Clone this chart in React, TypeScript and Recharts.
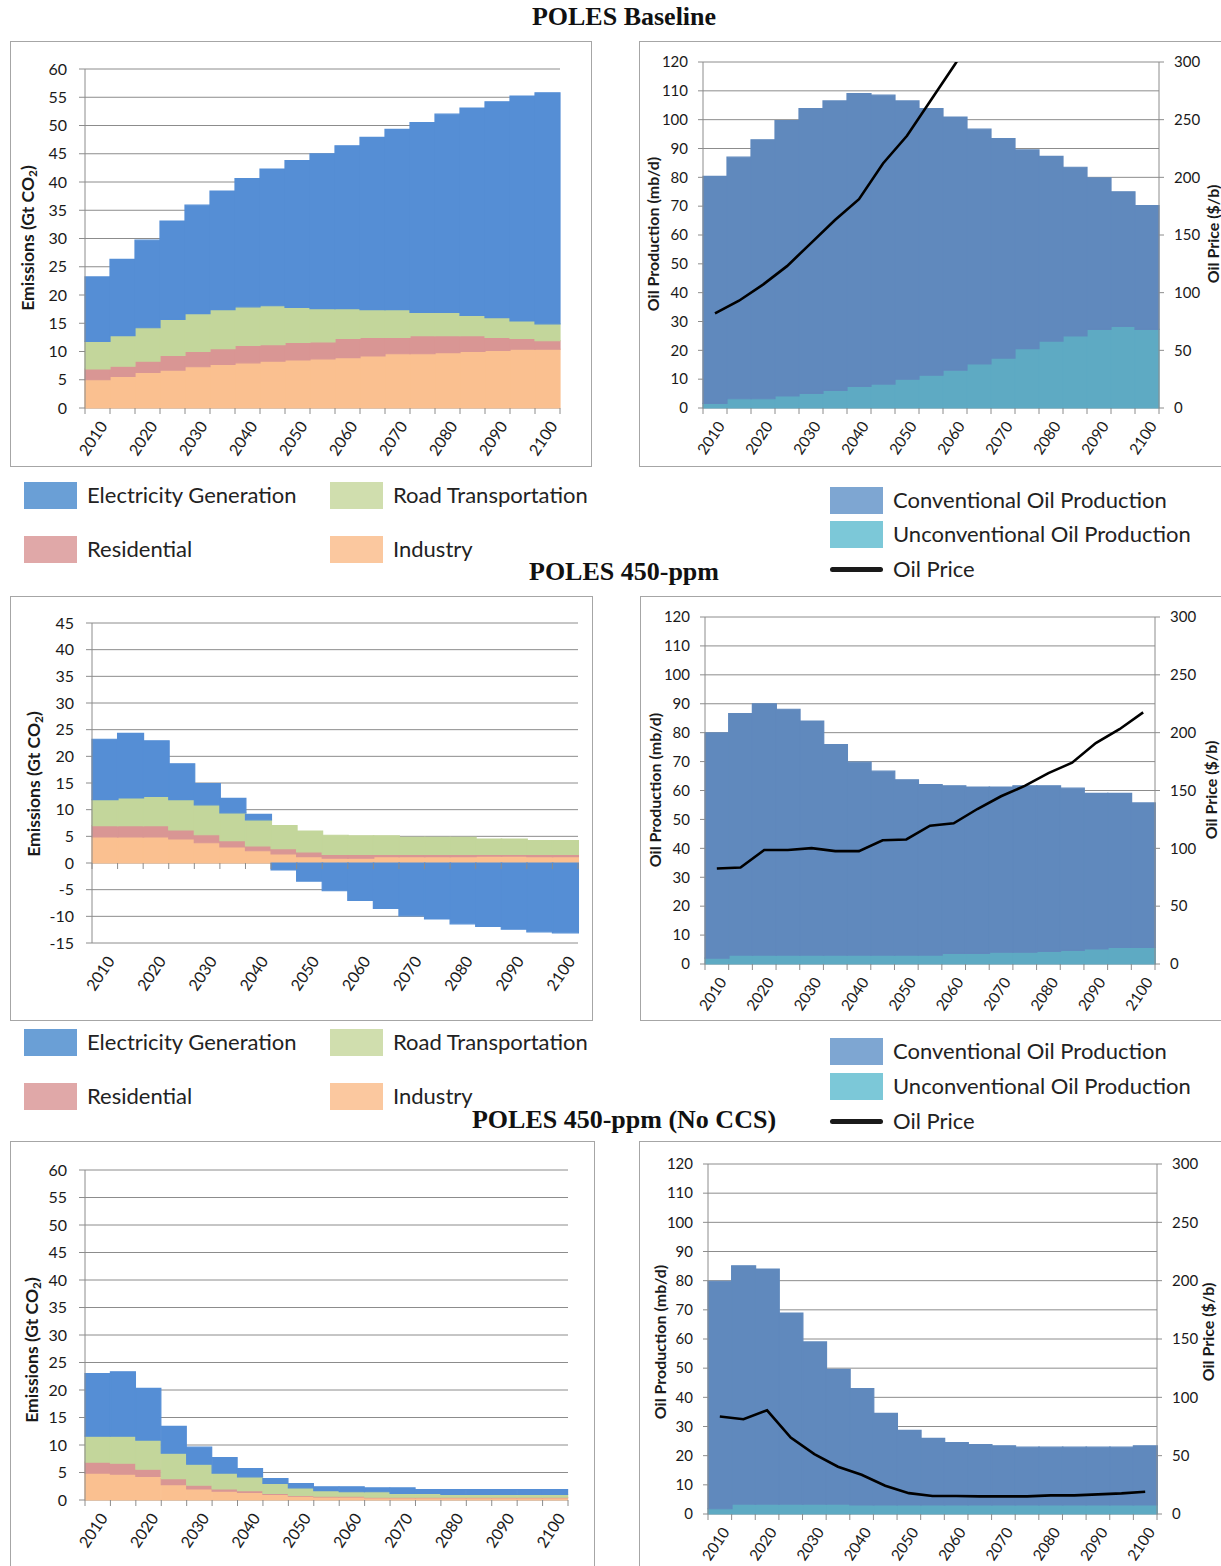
import { Bar, BarChart, CartesianGrid, ComposedChart, Line, XAxis, YAxis } from 'recharts';

const years = [2010, 2015, 2020, 2025, 2030, 2035, 2040, 2045, 2050, 2055, 2060, 2065, 2070, 2075, 2080, 2085, 2090, 2095, 2100];

// POLES Baseline
const baseIndustry = [5.0, 5.6, 6.3, 6.7, 7.3, 7.7, 8.0, 8.3, 8.5, 8.7, 8.9, 9.2, 9.6, 9.6, 9.8, 10.0, 10.2, 10.4, 10.4];
const baseResidential = [1.9, 1.8, 2.0, 2.6, 2.7, 2.8, 3.1, 2.9, 3.1, 3.0, 3.4, 3.3, 2.9, 3.2, 3.0, 2.8, 2.3, 1.9, 1.5];
const baseRoad = [4.9, 5.4, 5.9, 6.4, 6.7, 6.9, 6.8, 6.9, 6.2, 5.9, 5.3, 4.9, 4.9, 4.1, 4.1, 3.6, 3.5, 3.1, 3.0];
const baseElectricity = [11.4, 13.5, 15.5, 17.4, 19.2, 21.0, 22.7, 24.2, 26.0, 27.4, 28.8, 30.5, 31.9, 33.6, 35.1, 36.7, 38.2, 39.8, 40.9];
const baseUnconv = [1.6, 3.2, 3.2, 4.2, 5.1, 6.1, 7.5, 8.3, 10.0, 11.4, 13.1, 15.3, 17.3, 20.6, 23.2, 25.0, 27.3, 28.3, 27.3];
const baseConv = [78.7, 83.8, 89.8, 95.5, 98.7, 100.4, 101.5, 100.2, 96.5, 92.4, 87.8, 81.4, 76.1, 68.9, 64.1, 58.5, 52.5, 46.7, 42.9];
const basePrice = [82, 93, 107, 123, 143, 163, 181, 212, 236, 267, 298, 332, null, null, null, null, null, null, null];

// POLES 450-ppm
const ppmIndustry = [4.9, 4.9, 4.9, 4.5, 3.8, 3.0, 2.3, 1.7, 1.2, 0.9, 0.9, 1.2, 1.2, 1.2, 1.2, 1.3, 1.3, 1.2, 1.2];
const ppmResidential = [2.1, 2.1, 2.1, 1.7, 1.5, 1.2, 0.9, 1.0, 0.9, 0.7, 0.7, 0.4, 0.4, 0.4, 0.4, 0.3, 0.3, 0.4, 0.4];
const ppmRoad = [4.9, 5.2, 5.5, 5.7, 5.6, 5.2, 4.9, 4.3, 3.9, 3.6, 3.5, 3.5, 3.2, 3.2, 3.2, 2.9, 2.9, 2.6, 2.6];
const ppmElectricity = [11.3, 12.1, 10.4, 6.7, 4.0, 2.7, 1.0, -1.3, -3.4, -5.2, -7.0, -8.5, -9.9, -10.5, -11.4, -11.9, -12.4, -12.9, -13.1];
const ppmUnconv = [2.0, 3.1, 3.1, 3.1, 3.1, 3.1, 3.1, 3.1, 3.1, 3.1, 3.7, 3.7, 4.1, 4.1, 4.4, 4.7, 5.2, 5.7, 5.7];
const ppmConv = [77.9, 83.5, 86.9, 85.0, 80.9, 72.8, 66.7, 63.6, 60.6, 58.9, 57.9, 57.5, 57.1, 57.5, 57.2, 56.1, 53.8, 53.3, 50.0];
const ppmPrice = [82.5, 83.4, 98.5, 98.5, 100.2, 97.6, 97.6, 107, 107.7, 119.6, 121.6, 134, 145, 154, 165, 174, 191, 203, 217.5];

// POLES 450-ppm (No CCS)
const ccsIndustry = [4.9, 4.7, 4.3, 2.8, 2.0, 1.6, 1.4, 1.0, 0.7, 0.55, 0.55, 0.4, 0.4, 0.4, 0.4, 0.4, 0.4, 0.4, 0.4];
const ccsResidential = [2.0, 2.0, 1.3, 1.1, 0.7, 0.4, 0.3, 0.2, 0.15, 0.15, 0.15, 0.1, 0.1, 0.1, 0.1, 0.1, 0.1, 0.1, 0.1];
const ccsRoad = [4.7, 4.9, 5.3, 4.6, 3.8, 2.9, 2.5, 1.8, 1.35, 1.0, 0.8, 1.0, 0.7, 0.7, 0.5, 0.5, 0.5, 0.5, 0.5];
const ccsElectricity = [11.4, 11.7, 9.4, 4.9, 3.1, 2.8, 1.5, 0.9, 0.8, 0.7, 0.9, 0.7, 1.0, 0.7, 0.9, 0.9, 0.9, 0.9, 0.9];
const ccsUnconv = [1.8, 3.4, 3.4, 3.4, 3.4, 3.4, 3.1, 3.1, 3.1, 3.1, 3.1, 3.1, 3.1, 3.1, 3.1, 3.1, 3.1, 3.1, 3.1];
const ccsConv = [78.0, 81.7, 80.6, 65.5, 55.6, 46.2, 39.9, 31.4, 25.6, 22.8, 21.4, 20.7, 20.3, 19.8, 19.8, 19.8, 19.8, 19.8, 20.3];
const ccsPrice = [83.5, 81.2, 88.9, 65.5, 51.3, 40.5, 33.6, 24.2, 17.9, 15.4, 15.4, 15.1, 15.1, 15.1, 16, 16, 16.8, 17.7, 19.1];

const emissionTicks60 = [0, 5, 10, 15, 20, 25, 30, 35, 40, 45, 50, 55, 60];
const emissionTicks45 = [-15, -10, -5, 0, 5, 10, 15, 20, 25, 30, 35, 40, 45];
const prodTicks = [0, 10, 20, 30, 40, 50, 60, 70, 80, 90, 100, 110, 120];
const priceTicks = [0, 50, 100, 150, 200, 250, 300];

const COL = { elec: '#558ed5', road: '#c3d69b', res: '#d99694', ind: '#fac090', conv: '#6089bd', unconv: '#5eaac3' };
const LEG = { elec: '#6a9fd6', road: '#d0deae', res: '#e0a8a8', ind: '#fbc89f', conv: '#7ea6d2', unconv: '#7cc8d8' };
const FONT = 'Lato, "Open Sans", sans-serif';
const GRID = '#8c8c8c';
const TXT = '#1a1a1a';

const emissionsData = (ind: number[], res: number[], road: number[], elec: number[]) =>
  years.map((year, i) => ({ year, ind: ind[i], res: res[i], road: road[i], elec: elec[i] }));
const oilData = (unconv: number[], conv: number[], price: (number | null)[]) =>
  years.map((year, i) => ({ year, unconv: unconv[i], conv: conv[i], price: price[i] }));

function YearTick(props: any) {
  const { x, y, payload, index, bw, zeroDy, fs } = props;
  const ty = y - zeroDy;
  const h = bw / 2;
  const lx = x + 6;
  const ly = y + 15;
  return (
    <g>
      <line x1={x - h} x2={x - h} y1={ty} y2={ty + 6} stroke={GRID} />
      {index === years.length - 1 && <line x1={x + h} x2={x + h} y1={ty} y2={ty + 6} stroke={GRID} />}
      {payload.value % 10 === 0 && (
        <text x={lx} y={ly} dy="0.35em" textAnchor="end" transform={`rotate(-56 ${lx} ${ly})`} fontSize={fs} fill={TXT} fontFamily={FONT}>
          {payload.value}
        </text>
      )}
    </g>
  );
}

function Frame({ x, y, w, h }: { x: number; y: number; w: number; h: number }) {
  return <div style={{ position: 'absolute', left: x, top: y, width: w, height: h, border: '1px solid #a6a6a6', boxSizing: 'border-box' }} />;
}

function AxisTitle({ cx, cy, fs, children }: { cx: number; cy: number; fs: number; children: any }) {
  return (
    <div
      style={{
        position: 'absolute', left: cx, top: cy, transform: 'translate(-50%, -50%) rotate(-90deg)',
        whiteSpace: 'nowrap', fontFamily: FONT, fontWeight: 700, fontSize: fs, color: TXT, lineHeight: 1,
      }}
    >
      {children}
    </div>
  );
}

function Title({ y, text }: { y: number; text: string }) {
  return (
    <div style={{ position: 'absolute', left: 624, top: y, transform: 'translate(-50%, -50%)', whiteSpace: 'nowrap', fontFamily: '"Liberation Serif", "Times New Roman", serif', fontWeight: 700, fontSize: 26, color: '#111' }}>
      {text}
    </div>
  );
}

function Swatch({ x, y, color, label, line }: { x: number; y: number; color: string; label: string; line?: boolean }) {
  return (
    <>
      {line ? (
        <div style={{ position: 'absolute', left: x, top: y + 11, width: 53, height: 5, borderRadius: 3, background: '#1a1a1a' }} />
      ) : (
        <div style={{ position: 'absolute', left: x, top: y, width: 53, height: 27, background: color }} />
      )}
      <div style={{ position: 'absolute', left: x + 63, top: y + 12, transform: 'translateY(-50%)', whiteSpace: 'nowrap', fontFamily: FONT, fontSize: 22, color: '#222' }}>
        {label}
      </div>
    </>
  );
}

type Box = [number, number, number, number];

function EmissionsChart({ frame, plot, domain, ticks, data }: { frame: Box; plot: Box; domain: [number, number]; ticks: number[]; data: any[] }) {
  const [fx, fy, fw, fh] = frame;
  const [px1, py1, px2, py2] = plot;
  const yW = 50;
  const bw = (px2 - px1) / years.length;
  const zeroDy = ((0 - domain[0]) / (domain[1] - domain[0])) * (py2 - py1);
  return (
    <div style={{ position: 'absolute', left: fx, top: fy }}>
      <BarChart
        width={fw}
        height={fh}
        data={data}
        stackOffset="sign"
        barCategoryGap={0}
        barGap={0}
        margin={{ top: py1 - fy, right: fx + fw - px2, left: px1 - fx - yW, bottom: 0 }}
      >
        <CartesianGrid vertical={false} stroke={GRID} />
        <XAxis dataKey="year" height={fy + fh - py2} axisLine={false} tickLine={false} tickSize={0} tickMargin={0} interval={0} tick={<YearTick bw={bw} zeroDy={zeroDy} fs={16} />} />
        <YAxis
          type="number" domain={domain} ticks={ticks} interval={0} width={yW}
          axisLine={{ stroke: GRID }} tickLine={{ stroke: GRID }} tickSize={6} tickMargin={12}
          tick={{ fontSize: 16, fill: TXT, fontFamily: FONT }}
        />
        <Bar dataKey="ind" stackId="s" fill={COL.ind} stroke={COL.ind} strokeWidth={1.2} isAnimationActive={false} />
        <Bar dataKey="res" stackId="s" fill={COL.res} stroke={COL.res} strokeWidth={1.2} isAnimationActive={false} />
        <Bar dataKey="road" stackId="s" fill={COL.road} stroke={COL.road} strokeWidth={1.2} isAnimationActive={false} />
        <Bar dataKey="elec" stackId="s" fill={COL.elec} stroke={COL.elec} strokeWidth={1.2} isAnimationActive={false} />
      </BarChart>
    </div>
  );
}

function OilChart({ frame, plot, data }: { frame: Box; plot: Box; data: any[] }) {
  const [fx, fy, fw, fh] = frame;
  const [px1, py1, px2, py2] = plot;
  const yW = 50;
  const yW2 = 46;
  const bw = (px2 - px1) / years.length;
  return (
    <div style={{ position: 'absolute', left: fx, top: fy }}>
      <ComposedChart
        width={fw}
        height={fh}
        data={data}
        barCategoryGap={0}
        barGap={0}
        margin={{ top: py1 - fy, right: fx + fw - px2 - yW2, left: px1 - fx - yW, bottom: 0 }}
      >
        <CartesianGrid vertical={false} stroke={GRID} yAxisId="prod" />
        <XAxis dataKey="year" height={fy + fh - py2} axisLine={false} tickLine={false} tickSize={0} tickMargin={0} interval={0} tick={<YearTick bw={bw} zeroDy={0} fs={15.5} />} />
        <YAxis
          yAxisId="prod" type="number" domain={[0, 120]} ticks={prodTicks} interval={0} width={yW}
          axisLine={{ stroke: GRID }} tickLine={{ stroke: GRID }} tickSize={5} tickMargin={10}
          tick={{ fontSize: 15, fill: TXT, fontFamily: FONT }}
        />
        <YAxis
          yAxisId="price" orientation="right" type="number" domain={[0, 300]} ticks={priceTicks} interval={0} width={yW2}
          allowDataOverflow axisLine={{ stroke: GRID }} tickLine={{ stroke: GRID }} tickSize={5} tickMargin={10}
          tick={{ fontSize: 15, fill: TXT, fontFamily: FONT }}
        />
        <Bar yAxisId="prod" dataKey="unconv" stackId="o" fill={COL.unconv} stroke={COL.unconv} strokeWidth={1.2} isAnimationActive={false} />
        <Bar yAxisId="prod" dataKey="conv" stackId="o" fill={COL.conv} stroke={COL.conv} strokeWidth={1.2} isAnimationActive={false} />
        <Line yAxisId="price" dataKey="price" type="linear" stroke="#000" strokeWidth={2.6} dot={false} isAnimationActive={false} />
      </ComposedChart>
    </div>
  );
}

const co2 = (
  <>
    Emissions (Gt CO<sub style={{ fontSize: '0.68em', verticalAlign: '-0.25em' }}>2</sub>)
  </>
);

export default function App() {
  return (
    <div style={{ position: 'absolute', left: 0, top: 0, width: 1221, height: 1566, background: '#fff', overflow: 'hidden' }}>
      <Title y={17} text="POLES Baseline" />
      <Frame x={10} y={41} w={582} h={426} />
      <EmissionsChart frame={[10, 41, 582, 426]} plot={[85, 69, 560, 408]} domain={[0, 60]} ticks={emissionTicks60}
        data={emissionsData(baseIndustry, baseResidential, baseRoad, baseElectricity)} />
      <AxisTitle cx={29} cy={238} fs={17.5}>{co2}</AxisTitle>
      <Frame x={639} y={41} w={600} h={426} />
      <OilChart frame={[639, 41, 582, 426]} plot={[703, 62, 1159, 408]} data={oilData(baseUnconv, baseConv, basePrice)} />
      <AxisTitle cx={653} cy={234} fs={16}>Oil Production (mb/d)</AxisTitle>
      <AxisTitle cx={1213} cy={234} fs={16}>Oil Price ($/b)</AxisTitle>

      <Swatch x={24} y={482} color={LEG.elec} label="Electricity Generation" />
      <Swatch x={330} y={482} color={LEG.road} label="Road Transportation" />
      <Swatch x={24} y={536} color={LEG.res} label="Residential" />
      <Swatch x={330} y={536} color={LEG.ind} label="Industry" />
      <Swatch x={830} y={487} color={LEG.conv} label="Conventional Oil Production" />
      <Swatch x={830} y={521} color={LEG.unconv} label="Unconventional Oil Production" />
      <Swatch x={830} y={556} color="#000" label="Oil Price" line />

      <Title y={572} text="POLES 450-ppm" />
      <Frame x={10} y={596} w={583} h={425} />
      <EmissionsChart frame={[10, 596, 583, 425]} plot={[92, 623, 578, 943]} domain={[-15, 45]} ticks={emissionTicks45}
        data={emissionsData(ppmIndustry, ppmResidential, ppmRoad, ppmElectricity)} />
      <AxisTitle cx={35} cy={784} fs={17.5}>{co2}</AxisTitle>
      <Frame x={640} y={596} w={600} h={425} />
      <OilChart frame={[640, 596, 581, 425]} plot={[705, 617, 1155, 964]} data={oilData(ppmUnconv, ppmConv, ppmPrice)} />
      <AxisTitle cx={655} cy={790} fs={16}>Oil Production (mb/d)</AxisTitle>
      <AxisTitle cx={1211} cy={790} fs={16}>Oil Price ($/b)</AxisTitle>

      <Swatch x={24} y={1029} color={LEG.elec} label="Electricity Generation" />
      <Swatch x={330} y={1029} color={LEG.road} label="Road Transportation" />
      <Swatch x={24} y={1083} color={LEG.res} label="Residential" />
      <Swatch x={330} y={1083} color={LEG.ind} label="Industry" />
      <Swatch x={830} y={1038} color={LEG.conv} label="Conventional Oil Production" />
      <Swatch x={830} y={1073} color={LEG.unconv} label="Unconventional Oil Production" />
      <Swatch x={830} y={1108} color="#000" label="Oil Price" line />

      <Title y={1120} text="POLES 450-ppm (No CCS)" />
      <Frame x={10} y={1141} w={585} h={440} />
      <EmissionsChart frame={[10, 1141, 585, 425]} plot={[85, 1170, 568, 1500]} domain={[0, 60]} ticks={emissionTicks60}
        data={emissionsData(ccsIndustry, ccsResidential, ccsRoad, ccsElectricity)} />
      <AxisTitle cx={33} cy={1350} fs={17.5}>{co2}</AxisTitle>
      <Frame x={639} y={1141} w={600} h={440} />
      <OilChart frame={[639, 1141, 582, 425]} plot={[708, 1164, 1157, 1514]} data={oilData(ccsUnconv, ccsConv, ccsPrice)} />
      <AxisTitle cx={660} cy={1342} fs={16}>Oil Production (mb/d)</AxisTitle>
      <AxisTitle cx={1208} cy={1332} fs={16}>Oil Price ($/b)</AxisTitle>
    </div>
  );
}
